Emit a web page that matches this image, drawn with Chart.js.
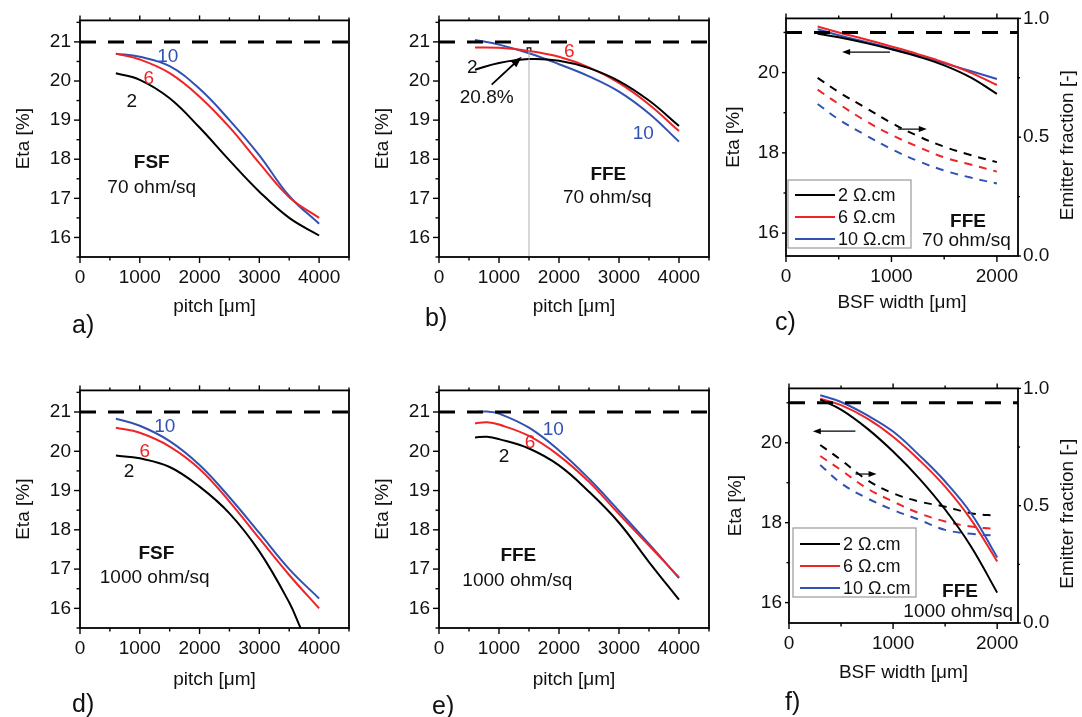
<!DOCTYPE html>
<html>
<head>
<meta charset="utf-8">
<script src="https://cdn.jsdelivr.net/npm/chart.js@4.4.0/dist/chart.umd.min.js"></script>
<style>
  body { margin: 0; background: #fff; width: 1082px; height: 717px; position: relative; overflow: hidden;
         font-family: 'Liberation Sans', Arial, sans-serif; }
  canvas { position: absolute; }
  .tag { position: absolute; font-size: 25px; line-height: 25px; color: #111; }
</style>
</head>
<body>
<canvas id="pa" width="365" height="345" style="left:0px;top:0px"></canvas>
<canvas id="pb" width="365" height="345" style="left:359px;top:0px"></canvas>
<canvas id="pc" width="362" height="345" style="left:720px;top:0px"></canvas>
<canvas id="pd" width="365" height="347" style="left:0px;top:370px"></canvas>
<canvas id="pe" width="365" height="347" style="left:359px;top:370px"></canvas>
<canvas id="pf" width="362" height="347" style="left:720px;top:370px"></canvas>
<div class="tag" style="left:72px;top:312px">a)</div>
<div class="tag" style="left:425px;top:305px">b)</div>
<div class="tag" style="left:775px;top:309px">c)</div>
<div class="tag" style="left:72px;top:691px">d)</div>
<div class="tag" style="left:432px;top:693px">e)</div>
<div class="tag" style="left:785px;top:689px">f)</div>
<script>
try {

// ---- data ----
const pitchTicks = [0, 1000, 2000, 3000, 4000];
const etaTicks = [16, 17, 18, 19, 20, 21];
const bsfTicks = [0, 1000, 2000];
const etaTicksBsf = [16, 18, 20];
const fracTicks = [0, 0.5, 1];
const etaLimit = 21;
const resLabels = ['2 Ω.cm', '6 Ω.cm', '10 Ω.cm'];

// a) FSF, 70 ohm/sq
const pitchA = [600, 1000, 1500, 2000, 2500, 3000, 3500, 4000];
const etaA2  = [20.2, 20.03, 19.56, 18.81, 17.97, 17.17, 16.5, 16.05];
const etaA6  = [20.7, 20.55, 20.2, 19.6, 18.82, 17.9, 17.03, 16.5];
const etaA10 = [20.7, 20.62, 20.38, 19.8, 19.0, 18.1, 17.06, 16.35];

// b) FFE, 70 ohm/sq
const pitchB = [600, 1000, 1500, 2000, 2500, 3000, 3500, 4000];
const etaB2  = [20.29, 20.46, 20.56, 20.52, 20.33, 20.0, 19.5, 18.85];
const etaB6  = [20.86, 20.85, 20.77, 20.62, 20.35, 19.95, 19.4, 18.72];
const etaB10 = [21.05, 20.93, 20.71, 20.43, 20.12, 19.73, 19.17, 18.45];
const optPitchB = 1500;
const optEtaB = 20.8;

// c) FFE, 70 ohm/sq, BSF width sweep
const bsfC = [300, 500, 750, 1000, 1250, 1500, 1750, 2000];
const etaC2  = [20.97, 20.88, 20.74, 20.58, 20.4, 20.18, 19.88, 19.47];
const etaC6  = [21.15, 21.0, 20.83, 20.65, 20.46, 20.25, 20.0, 19.69];
const etaC10 = [21.08, 20.93, 20.77, 20.6, 20.42, 20.23, 20.04, 19.84];
const fracC2  = [0.75, 0.69, 0.625, 0.56, 0.505, 0.46, 0.425, 0.395];
const fracC6  = [0.70, 0.64, 0.57, 0.51, 0.46, 0.415, 0.385, 0.355];
const fracC10 = [0.64, 0.575, 0.51, 0.45, 0.40, 0.36, 0.33, 0.305];

// d) FSF, 1000 ohm/sq (the 2 Ω.cm curve leaves the plot near 3700 µm)
const pitchD2 = [600, 1000, 1500, 2000, 2500, 3000, 3500, 3690];
const pitchD = [600, 1000, 1500, 2000, 2500, 3000, 3500, 4000];
const etaD2  = [19.89, 19.82, 19.6, 19.1, 18.42, 17.45, 16.15, 15.5];
const etaD6  = [20.6, 20.47, 20.12, 19.55, 18.72, 17.78, 16.85, 16.0];
const etaD10 = [20.83, 20.65, 20.26, 19.65, 18.83, 17.92, 17.0, 16.25];

// e) FFE, 1000 ohm/sq
const pitchE = [600, 800, 1000, 1500, 2000, 2500, 3000, 3500, 4000];
const etaE2  = [20.35, 20.37, 20.31, 20.07, 19.64, 18.97, 18.18, 17.18, 16.22];
const etaE6  = [20.71, 20.74, 20.68, 20.39, 19.89, 19.22, 18.4, 17.6, 16.79];
const etaE10 = [21.0, 21.01, 20.96, 20.6, 20.02, 19.3, 18.48, 17.64, 16.77];

// f) FFE, 1000 ohm/sq, BSF width sweep
const bsfF = [300, 500, 750, 1000, 1250, 1500, 1750, 2000];
const etaF2  = [21.08, 20.83, 20.36, 19.78, 19.11, 18.33, 17.4, 16.25];
const etaF6  = [21.1, 20.94, 20.61, 20.15, 19.57, 18.9, 18.07, 17.03];
const etaF10 = [21.19, 21.02, 20.69, 20.28, 19.69, 19.03, 18.23, 17.13];
const fracF2  = [0.759, 0.695, 0.61, 0.553, 0.518, 0.496, 0.468, 0.457];
const fracF6  = [0.712, 0.652, 0.574, 0.518, 0.468, 0.433, 0.411, 0.40];
const fracF10 = [0.674, 0.596, 0.532, 0.482, 0.44, 0.397, 0.38, 0.372];

const BLACK = '#000000';
const RED = '#ee2427';
const BLUE = '#3152b3';
const FONT = "'Liberation Sans', Arial, sans-serif";

Chart.defaults.font.family = FONT;
Chart.defaults.font.size = 19;
Chart.defaults.color = '#111';

function curve(xs, ys, color, extra) {
  return Object.assign({
    data: xs.map((x, i) => ({ x: x, y: ys[i] })),
    borderColor: color,
    backgroundColor: color,
    borderWidth: 2,
    pointRadius: 0,
    showLine: true,
    fill: false,
    tension: 0.4
  }, extra || {});
}

function limitLine(x0, x1) {
  return {
    data: [{ x: x0, y: etaLimit }, { x: x1, y: etaLimit }],
    borderColor: BLACK, borderWidth: 3, borderDash: [16, 12],
    pointRadius: 0, showLine: true, tension: 0
  };
}

// frame, minor/major ticks, notes, arrows and legend box
const decor = {
  id: 'decor',
  afterDatasetsDraw(chart, args, o) {
    const { ctx, chartArea: a, scales } = chart;
    const seg = (x1, y1, x2, y2) => { ctx.beginPath(); ctx.moveTo(x1, y1); ctx.lineTo(x2, y2); ctx.stroke(); };
    const marks = (scale, minor, major, fn) => {
      for (let v = Math.ceil(scale.min / minor - 1e-6) * minor; v <= scale.max + 1e-6; v += minor) {
        const big = Math.abs(v / major - Math.round(v / major)) < 1e-6;
        fn(scale.getPixelForValue(v), big);
      }
    };
    const yt = o.yTick || [6, 3.5];
    ctx.save();
    ctx.strokeStyle = '#000';
    ctx.lineWidth = 1.8;
    ctx.strokeRect(a.left, a.top, a.right - a.left, a.bottom - a.top);
    ctx.lineWidth = 1.4;
    marks(scales.x, o.xMinor, o.xMajor, (p, big) => {
      seg(p, a.bottom, p, a.bottom + (big ? 6 : 3.5));
      seg(p, a.top, p, a.top - (big ? 5 : 3));
    });
    marks(scales.y, o.yMinor, o.yMajor, (p, big) => seg(a.left, p, a.left - (big ? yt[0] : yt[1]), p));
    if (scales.y2) {
      marks(scales.y2, 0.25, 0.5, (p, big) => seg(a.right, p, a.right + (big ? 3 : 2), p));
      ctx.save();
      ctx.fillStyle = '#111';
      ctx.font = '19px ' + FONT;
      ctx.textAlign = 'center';
      ctx.textBaseline = 'middle';
      ctx.translate(chart.width - 14, (a.top + a.bottom) / 2 + 8);
      ctx.rotate(-Math.PI / 2);
      ctx.fillText('Emitter fraction [-]', 0, 0);
      ctx.restore();
    }

    // arrows, given in data units
    (o.arrows || []).forEach(ar => {
      const ys = scales[ar.axis || 'y'];
      const x1 = scales.x.getPixelForValue(ar.from[0]), y1 = ys.getPixelForValue(ar.from[1]);
      const x2 = scales.x.getPixelForValue(ar.to[0]), y2 = ys.getPixelForValue(ar.to[1]);
      const ang = Math.atan2(y2 - y1, x2 - x1);
      const hl = ar.head || 8, hw = ar.hw || 3;
      ctx.strokeStyle = '#000';
      ctx.fillStyle = '#000';
      ctx.lineWidth = ar.width || 1.2;
      seg(x1, y1, x2 - Math.cos(ang) * hl * 0.7, y2 - Math.sin(ang) * hl * 0.7);
      ctx.beginPath();
      ctx.moveTo(x2, y2);
      ctx.lineTo(x2 - Math.cos(ang) * hl - Math.sin(ang) * hw, y2 - Math.sin(ang) * hl + Math.cos(ang) * hw);
      ctx.lineTo(x2 - Math.cos(ang) * hl + Math.sin(ang) * hw, y2 - Math.sin(ang) * hl - Math.cos(ang) * hw);
      ctx.closePath();
      ctx.fill();
    });

    // text notes, given in data units
    ctx.textAlign = 'center';
    ctx.textBaseline = 'middle';
    (o.notes || []).forEach(n => {
      ctx.fillStyle = n.color || '#111';
      ctx.font = (n.bold ? 'bold ' : '') + (n.size || 19) + 'px ' + FONT;
      ctx.fillText(n.text, scales.x.getPixelForValue(n.x), scales.y.getPixelForValue(n.y));
    });

    // legend box inside the plot
    if (o.legend) {
      const L = o.legend;
      const bx = a.left + L.dx, by = a.bottom - L.dy - L.h;
      ctx.fillStyle = '#fff';
      ctx.fillRect(bx, by, L.w, L.h);
      ctx.strokeStyle = '#999';
      ctx.lineWidth = 1.2;
      ctx.strokeRect(bx, by, L.w, L.h);
      ctx.textAlign = 'left';
      ctx.font = '18px ' + FONT;
      L.items.forEach((it, i) => {
        const yy = by + L.first + i * L.step;
        ctx.strokeStyle = it.color;
        ctx.lineWidth = 2;
        seg(bx + 7, yy, bx + 47, yy);
        ctx.fillStyle = '#111';
        ctx.fillText(it.text, bx + 50, yy + 1);
      });
    }
    ctx.restore();
  }
};

function panel(id, cfg) {
  const fixTicks = list => s => { s.ticks = list.map(v => ({ value: v })); };
  const scales = {
    x: {
      type: 'linear', min: cfg.xMin, max: cfg.xMax,
      afterBuildTicks: fixTicks(cfg.xTicks),
      afterFit: s => { s.height = cfg.xh; },
      grid: { display: false, drawTicks: false }, border: { display: false },
      ticks: { padding: 9, callback: v => String(v) },
      title: { display: true, text: cfg.xTitle, padding: 0 }
    },
    y: {
      type: 'linear', min: cfg.yMin, max: cfg.yMax,
      afterBuildTicks: fixTicks(cfg.yTicks),
      afterFit: s => { s.width = cfg.yw; },
      grid: { display: false, drawTicks: false }, border: { display: false },
      ticks: { padding: cfg.yPad || 9, callback: v => String(v) },
      title: { display: true, text: 'Eta [%]', padding: 0 }
    }
  };
  if (cfg.y2w) {
    scales.y2 = {
      type: 'linear', position: 'right', min: 0, max: 1,
      afterBuildTicks: fixTicks(fracTicks),
      afterFit: s => { s.width = cfg.y2w; },
      grid: { display: false, drawTicks: false }, border: { display: false },
      ticks: { padding: 5, callback: v => v.toFixed(1) },
      title: { display: false }
    };
  }
  return new Chart(document.getElementById(id), {
    type: 'scatter',
    data: { datasets: cfg.datasets },
    options: {
      responsive: false,
      animation: false,
      devicePixelRatio: 1,
      layout: { padding: cfg.pad },
      plugins: { legend: { display: false }, tooltip: { enabled: false }, decor: cfg.decor },
      scales: scales
    },
    plugins: [decor]
  });
}

const pitchBase = {
  xMin: 0, xMax: 4500, yMin: 15.5, yMax: 21.55,
  xTicks: pitchTicks, yTicks: etaTicks, xTitle: 'pitch [μm]', yw: 68
};
const pitchDecor = { xMinor: 500, xMajor: 1000, yMinor: 0.5, yMajor: 1 };
const bsfBase = {
  xMin: 0, xMax: 2200, xTicks: bsfTicks, yTicks: etaTicksBsf, xTitle: 'BSF width [μm]', yPad: 7
};
const bsfDecor = { xMinor: 500, xMajor: 1000, yMinor: 1, yMajor: 2, yTick: [4, 2.5] };
const legendItems = [
  { text: resLabels[0], color: BLACK },
  { text: resLabels[1], color: RED },
  { text: resLabels[2], color: BLUE }
];

// a)
panel('pa', Object.assign({}, pitchBase, {
  pad: { left: 12, top: 15, right: 16, bottom: 27 }, xh: 61,
  datasets: [
    limitLine(0, 4500),
    curve(pitchA, etaA2, BLACK), curve(pitchA, etaA6, RED), curve(pitchA, etaA10, BLUE)
  ],
  decor: Object.assign({}, pitchDecor, {
    notes: [
      { x: 1470, y: 20.61, text: '10', color: BLUE },
      { x: 1150, y: 20.06, text: '6', color: RED },
      { x: 867, y: 19.46, text: '2' },
      { x: 1200, y: 17.9, text: 'FSF', bold: true },
      { x: 1200, y: 17.28, text: '70 ohm/sq' }
    ]
  })
}));

// b)
panel('pb', Object.assign({}, pitchBase, {
  pad: { left: 12, top: 15, right: 15, bottom: 27 }, xh: 61,
  datasets: [
    limitLine(0, 4500),
    { data: [{ x: optPitchB, y: 15.5 }, { x: optPitchB, y: optEtaB }], borderColor: '#b0b0b0', borderWidth: 1,
      pointRadius: 0, showLine: true, tension: 0 },
    curve(pitchB, etaB2, BLACK), curve(pitchB, etaB6, RED), curve(pitchB, etaB10, BLUE),
    { data: [{ x: optPitchB, y: optEtaB }], pointStyle: 'rect', pointRadius: 2.5, borderColor: '#000',
      backgroundColor: '#fff', borderWidth: 1.2 }
  ],
  decor: Object.assign({}, pitchDecor, {
    arrows: [{ from: [878, 19.91], to: [1378, 20.62], width: 1.8, head: 11, hw: 4 }],
    notes: [
      { x: 555, y: 20.35, text: '2' },
      { x: 2172, y: 20.75, text: '6', color: RED },
      { x: 3405, y: 18.66, text: '10', color: BLUE },
      { x: 795, y: 19.56, text: '20.8%' },
      { x: 2822, y: 17.61, text: 'FFE', bold: true },
      { x: 2805, y: 17.02, text: '70 ohm/sq' }
    ]
  })
}));

// c)
panel('pc', Object.assign({}, bsfBase, {
  yMin: 15.43, yMax: 21.35,
  pad: { left: 2, top: 18, right: 0, bottom: 31 }, xh: 58, yw: 64, y2w: 64,
  datasets: [
    limitLine(0, 2200),
    curve(bsfC, etaC2, BLACK), curve(bsfC, etaC6, RED), curve(bsfC, etaC10, BLUE),
    curve(bsfC, fracC2, BLACK, { yAxisID: 'y2', borderDash: [8, 7] }),
    curve(bsfC, fracC6, RED, { yAxisID: 'y2', borderDash: [8, 7] }),
    curve(bsfC, fracC10, BLUE, { yAxisID: 'y2', borderDash: [8, 7] })
  ],
  decor: Object.assign({}, bsfDecor, {
    arrows: [
      { from: [986, 20.51], to: [532, 20.51] },
      { from: [1061, 0.534], to: [1335, 0.534], axis: 'y2' }
    ],
    notes: [
      { x: 1726, y: 16.29, text: 'FFE', bold: true },
      { x: 1711, y: 15.82, text: '70 ohm/sq' }
    ],
    legend: { dx: 2, dy: 8, w: 123, h: 68, first: 15, step: 22, items: legendItems }
  })
}));

// d)
panel('pd', Object.assign({}, pitchBase, {
  pad: { left: 12, top: 15, right: 16, bottom: 26 }, xh: 63,
  datasets: [
    limitLine(0, 4500),
    curve(pitchD2, etaD2, BLACK), curve(pitchD, etaD6, RED), curve(pitchD, etaD10, BLUE)
  ],
  decor: Object.assign({}, pitchDecor, {
    notes: [
      { x: 1417, y: 20.62, text: '10', color: BLUE },
      { x: 1083, y: 20.0, text: '6', color: RED },
      { x: 822, y: 19.47, text: '2' },
      { x: 1278, y: 17.39, text: 'FSF', bold: true },
      { x: 1250, y: 16.77, text: '1000 ohm/sq' }
    ]
  })
}));

// e)
panel('pe', Object.assign({}, pitchBase, {
  pad: { left: 12, top: 15, right: 15, bottom: 26 }, xh: 63,
  datasets: [
    limitLine(0, 4500),
    curve(pitchE, etaE2, BLACK), curve(pitchE, etaE6, RED), curve(pitchE, etaE10, BLUE)
  ],
  decor: Object.assign({}, pitchDecor, {
    notes: [
      { x: 1905, y: 20.54, text: '10', color: BLUE },
      { x: 1517, y: 20.21, text: '6', color: RED },
      { x: 1083, y: 19.85, text: '2' },
      { x: 1322, y: 17.35, text: 'FFE', bold: true },
      { x: 1305, y: 16.71, text: '1000 ohm/sq' }
    ]
  })
}));

// f)
panel('pf', Object.assign({}, bsfBase, {
  yMin: 15.49, yMax: 21.36,
  pad: { left: 4, top: 18, right: 0, bottom: 33 }, xh: 61, yw: 65, y2w: 64,
  datasets: [
    limitLine(0, 2200),
    curve(bsfF, etaF2, BLACK), curve(bsfF, etaF6, RED), curve(bsfF, etaF10, BLUE),
    curve(bsfF, fracF2, BLACK, { yAxisID: 'y2', borderDash: [8, 7] }),
    curve(bsfF, fracF6, RED, { yAxisID: 'y2', borderDash: [8, 7] }),
    curve(bsfF, fracF10, BLUE, { yAxisID: 'y2', borderDash: [8, 7] })
  ],
  decor: Object.assign({}, bsfDecor, {
    arrows: [
      { from: [638, 20.29], to: [229, 20.29] },
      { from: [638, 0.635], to: [841, 0.635], axis: 'y2' }
    ],
    notes: [
      { x: 1643, y: 16.26, text: 'FFE', bold: true },
      { x: 1626, y: 15.76, text: '1000 ohm/sq' }
    ],
    legend: { dx: 4, dy: 26, w: 123, h: 69, first: 16, step: 22, items: legendItems }
  })
}));

} catch (err) {
  console.error(err);
}
</script>
</body>
</html>
